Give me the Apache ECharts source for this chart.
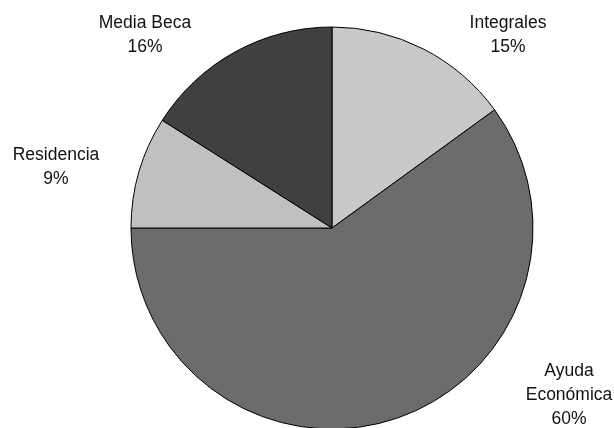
<!DOCTYPE html>
<html>
<head>
<meta charset="utf-8">
<script src="https://cdn.jsdelivr.net/npm/echarts@6/dist/echarts.min.js"></script>
<style>
html,body{margin:0;padding:0;background:#fff;}
#chart{width:614px;height:428px;}
</style>
</head>
<body>
<div id="chart"></div>
<script>
const categories = ['Integrales', 'Ayuda\nEconómica', 'Residencia', 'Media Beca'];
const values = [15, 60, 9, 16];
const colors = ['#c8c8c8', '#6c6c6c', '#c0c0c0', '#404040'];
const labelPos = [[508, 35], [569, 395], [56, 167], [145, 35]];

const chart = echarts.init(document.getElementById('chart'));
chart.setOption({
  animation: false,
  series: [{
    type: 'pie',
    center: [332, 228],
    radius: [0, 201],
    startAngle: 90,
    clockwise: true,
    data: categories.map((c, i) => ({
      name: c, value: values[i],
      itemStyle: { color: colors[i] }
    })),
    itemStyle: { borderColor: '#000', borderWidth: 1 },
    label: {
      show: true,
      position: 'outside',
      overflow: 'none',
      formatter: p => p.name + '\n' + p.value + '%',
      fontFamily: 'Liberation Sans, Arial, sans-serif',
      fontSize: 17.5,
      lineHeight: 24,
      color: '#111',
      align: 'center'
    },
    labelLine: { show: false },
    labelLayout: params => ({
      x: labelPos[params.dataIndex][0],
      y: labelPos[params.dataIndex][1],
      align: 'center',
      verticalAlign: 'middle'
    }),
    emphasis: { disabled: true }
  }]
});
</script>
</body>
</html>
